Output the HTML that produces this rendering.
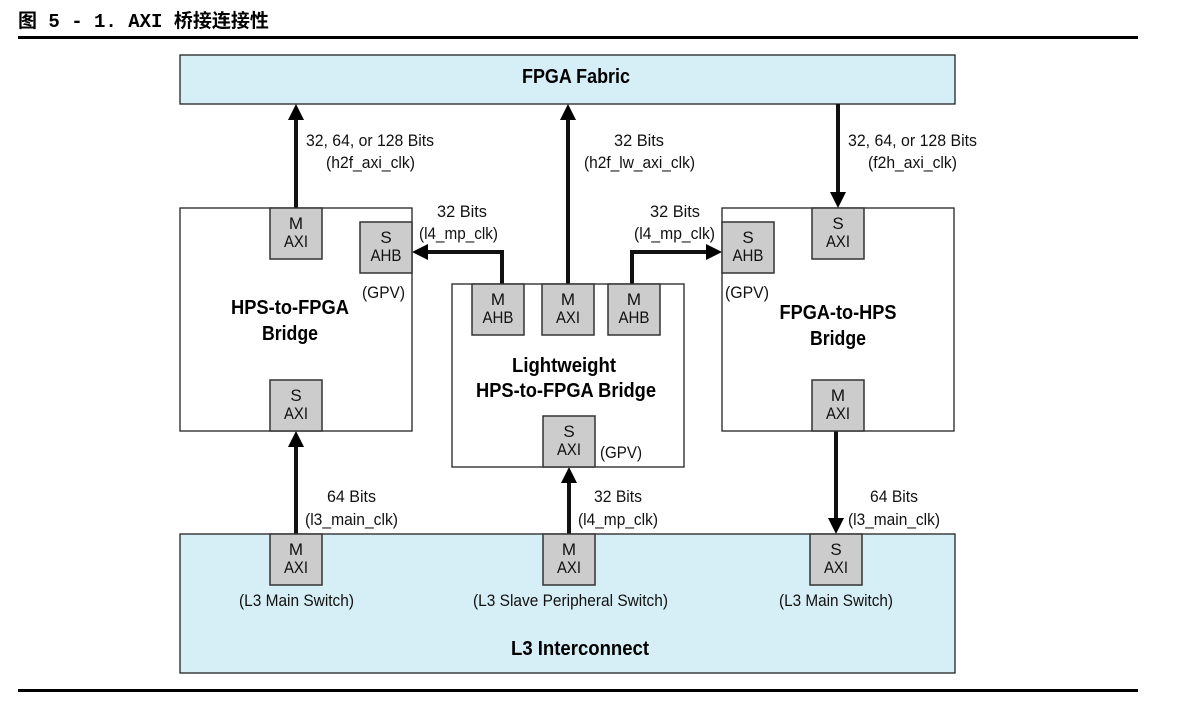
<!DOCTYPE html>
<html><head><meta charset="utf-8"><style>
html,body{margin:0;padding:0;background:#fff;}
svg{display:block;}
.t{font-family:"Liberation Sans",Arial,sans-serif;font-size:17px;fill:#111;}
.b{font-family:"Liberation Sans",Arial,sans-serif;font-size:20px;font-weight:bold;fill:#000;}
.g{fill:#cccccc;stroke:#333;stroke-width:1.5;}
.w{fill:#fff;stroke:#222;stroke-width:1.3;}
.l{fill:#d6eef5;stroke:#222;stroke-width:1.3;}
.ln{stroke:#111;stroke-width:4;fill:none;}
</style></head><body>
<svg width="1194" height="702" viewBox="0 0 1194 702" xmlns="http://www.w3.org/2000/svg">
<text x="18" y="27" style="font-family:'Liberation Mono','Noto Sans CJK SC',monospace;font-size:19px;font-weight:bold;fill:#000;">图 5 - 1. AXI 桥接连接性</text>
<rect x="18" y="36" width="1120" height="3" fill="#000"/>
<rect x="18" y="689" width="1120" height="3" fill="#000"/>

<rect class="l" x="180" y="55" width="775" height="49"/>
<text class="b" x="576" y="83" text-anchor="middle" textLength="108" lengthAdjust="spacingAndGlyphs">FPGA Fabric</text>

<rect class="l" x="180" y="534" width="775" height="139"/>
<text class="b" x="580" y="655" text-anchor="middle" textLength="138" lengthAdjust="spacingAndGlyphs">L3 Interconnect</text>

<rect class="w" x="180" y="208" width="232" height="223"/>
<rect class="w" x="452" y="284" width="232" height="183"/>
<rect class="w" x="722" y="208" width="232" height="223"/>

<!-- lines -->
<line class="ln" x1="296" y1="208" x2="296" y2="118"/>
<polygon points="288,120 304,120 296,104"/>
<line class="ln" x1="568" y1="284" x2="568" y2="118"/>
<polygon points="560,120 576,120 568,104"/>
<line class="ln" x1="838" y1="104" x2="838" y2="194"/>
<polygon points="830,192 846,192 838,208"/>
<polyline class="ln" points="502,284 502,252 426,252"/>
<polygon points="428,244 428,260 412,252"/>
<polyline class="ln" points="632,284 632,252 708,252"/>
<polygon points="706,244 706,260 722,252"/>
<line class="ln" x1="296" y1="534" x2="296" y2="445"/>
<polygon points="288,447 304,447 296,431"/>
<line class="ln" x1="569" y1="534" x2="569" y2="481"/>
<polygon points="561,483 577,483 569,467"/>
<line class="ln" x1="836" y1="431" x2="836" y2="520"/>
<polygon points="828,518 844,518 836,534"/>

<!-- gray boxes -->
<g>
<rect class="g" x="270" y="208" width="52" height="51"/><text class="t" x="296" y="229" text-anchor="middle">M</text><text class="t" x="296" y="247" text-anchor="middle" textLength="24" lengthAdjust="spacingAndGlyphs">AXI</text>
<rect class="g" x="360" y="222" width="52" height="51"/><text class="t" x="386" y="243" text-anchor="middle">S</text><text class="t" x="386" y="261" text-anchor="middle" textLength="31" lengthAdjust="spacingAndGlyphs">AHB</text>
<rect class="g" x="270" y="380" width="52" height="51"/><text class="t" x="296" y="401" text-anchor="middle">S</text><text class="t" x="296" y="419" text-anchor="middle" textLength="24" lengthAdjust="spacingAndGlyphs">AXI</text>

<rect class="g" x="472" y="284" width="52" height="51"/><text class="t" x="498" y="305" text-anchor="middle">M</text><text class="t" x="498" y="323" text-anchor="middle" textLength="31" lengthAdjust="spacingAndGlyphs">AHB</text>
<rect class="g" x="542" y="284" width="52" height="51"/><text class="t" x="568" y="305" text-anchor="middle">M</text><text class="t" x="568" y="323" text-anchor="middle" textLength="24" lengthAdjust="spacingAndGlyphs">AXI</text>
<rect class="g" x="608" y="284" width="52" height="51"/><text class="t" x="634" y="305" text-anchor="middle">M</text><text class="t" x="634" y="323" text-anchor="middle" textLength="31" lengthAdjust="spacingAndGlyphs">AHB</text>
<rect class="g" x="543" y="416" width="52" height="51"/><text class="t" x="569" y="437" text-anchor="middle">S</text><text class="t" x="569" y="455" text-anchor="middle" textLength="24" lengthAdjust="spacingAndGlyphs">AXI</text>

<rect class="g" x="722" y="222" width="52" height="51"/><text class="t" x="748" y="243" text-anchor="middle">S</text><text class="t" x="748" y="261" text-anchor="middle" textLength="31" lengthAdjust="spacingAndGlyphs">AHB</text>
<rect class="g" x="812" y="208" width="52" height="51"/><text class="t" x="838" y="229" text-anchor="middle">S</text><text class="t" x="838" y="247" text-anchor="middle" textLength="24" lengthAdjust="spacingAndGlyphs">AXI</text>
<rect class="g" x="812" y="380" width="52" height="51"/><text class="t" x="838" y="401" text-anchor="middle">M</text><text class="t" x="838" y="419" text-anchor="middle" textLength="24" lengthAdjust="spacingAndGlyphs">AXI</text>

<rect class="g" x="270" y="534" width="52" height="51"/><text class="t" x="296" y="555" text-anchor="middle">M</text><text class="t" x="296" y="573" text-anchor="middle" textLength="24" lengthAdjust="spacingAndGlyphs">AXI</text>
<rect class="g" x="543" y="534" width="52" height="51"/><text class="t" x="569" y="555" text-anchor="middle">M</text><text class="t" x="569" y="573" text-anchor="middle" textLength="24" lengthAdjust="spacingAndGlyphs">AXI</text>
<rect class="g" x="810" y="534" width="52" height="51"/><text class="t" x="836" y="555" text-anchor="middle">S</text><text class="t" x="836" y="573" text-anchor="middle" textLength="24" lengthAdjust="spacingAndGlyphs">AXI</text>
</g>

<!-- labels -->
<text class="t" x="306" y="146" textLength="128" lengthAdjust="spacingAndGlyphs">32, 64, or 128 Bits</text>
<text class="t" x="326" y="168" textLength="89" lengthAdjust="spacingAndGlyphs">(h2f_axi_clk)</text>
<text class="t" x="614" y="146" textLength="50" lengthAdjust="spacingAndGlyphs">32 Bits</text>
<text class="t" x="584" y="168" textLength="111" lengthAdjust="spacingAndGlyphs">(h2f_lw_axi_clk)</text>
<text class="t" x="848" y="146" textLength="129" lengthAdjust="spacingAndGlyphs">32, 64, or 128 Bits</text>
<text class="t" x="868" y="168" textLength="89" lengthAdjust="spacingAndGlyphs">(f2h_axi_clk)</text>
<text class="t" x="437" y="217" textLength="50" lengthAdjust="spacingAndGlyphs">32 Bits</text>
<text class="t" x="419" y="239" textLength="79" lengthAdjust="spacingAndGlyphs">(l4_mp_clk)</text>
<text class="t" x="650" y="217" textLength="50" lengthAdjust="spacingAndGlyphs">32 Bits</text>
<text class="t" x="634" y="239" textLength="81" lengthAdjust="spacingAndGlyphs">(l4_mp_clk)</text>
<text class="t" x="362" y="298" textLength="43" lengthAdjust="spacingAndGlyphs">(GPV)</text>
<text class="t" x="725" y="298" textLength="44" lengthAdjust="spacingAndGlyphs">(GPV)</text>
<text class="t" x="600" y="458" textLength="42" lengthAdjust="spacingAndGlyphs">(GPV)</text>

<text class="b" x="290" y="314" text-anchor="middle" textLength="118" lengthAdjust="spacingAndGlyphs">HPS-to-FPGA</text>
<text class="b" x="290" y="340" text-anchor="middle" textLength="56" lengthAdjust="spacingAndGlyphs">Bridge</text>
<text class="b" x="838" y="319" text-anchor="middle" textLength="117" lengthAdjust="spacingAndGlyphs">FPGA-to-HPS</text>
<text class="b" x="838" y="345" text-anchor="middle" textLength="56" lengthAdjust="spacingAndGlyphs">Bridge</text>
<text class="b" x="564" y="372" text-anchor="middle" textLength="104" lengthAdjust="spacingAndGlyphs">Lightweight</text>
<text class="b" x="566" y="397" text-anchor="middle" textLength="180" lengthAdjust="spacingAndGlyphs">HPS-to-FPGA Bridge</text>

<text class="t" x="327" y="502" textLength="49" lengthAdjust="spacingAndGlyphs">64 Bits</text>
<text class="t" x="305" y="525" textLength="93" lengthAdjust="spacingAndGlyphs">(l3_main_clk)</text>
<text class="t" x="594" y="502" textLength="48" lengthAdjust="spacingAndGlyphs">32 Bits</text>
<text class="t" x="578" y="525" textLength="80" lengthAdjust="spacingAndGlyphs">(l4_mp_clk)</text>
<text class="t" x="870" y="502" textLength="48" lengthAdjust="spacingAndGlyphs">64 Bits</text>
<text class="t" x="848" y="525" textLength="92" lengthAdjust="spacingAndGlyphs">(l3_main_clk)</text>

<text class="t" x="239" y="606" textLength="115" lengthAdjust="spacingAndGlyphs">(L3 Main Switch)</text>
<text class="t" x="473" y="606" textLength="195" lengthAdjust="spacingAndGlyphs">(L3 Slave Peripheral Switch)</text>
<text class="t" x="779" y="606" textLength="114" lengthAdjust="spacingAndGlyphs">(L3 Main Switch)</text>
</svg>
</body></html>
